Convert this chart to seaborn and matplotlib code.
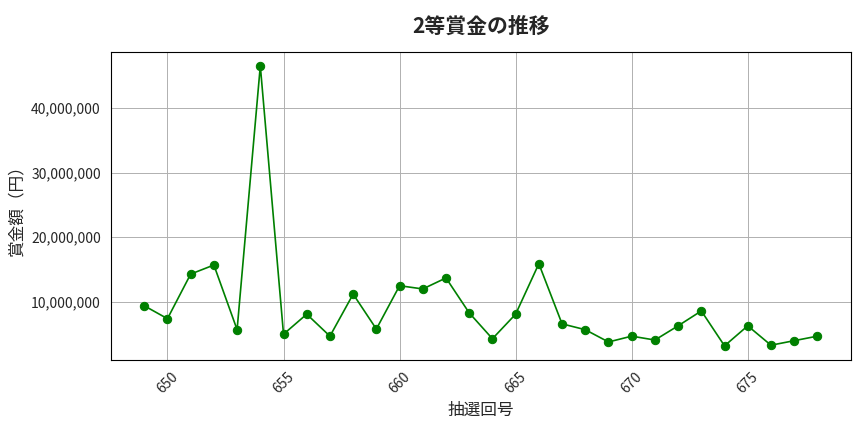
import matplotlib
matplotlib.use("Agg")
import matplotlib.pyplot as plt
import seaborn as sns
import pandas as pd
from matplotlib.ticker import FuncFormatter

draws = list(range(649, 679))
prizes = [9.4, 7.4, 14.3, 15.7, 5.7, 46.5, 5.0, 8.1, 4.7, 11.2, 5.8, 12.5, 12.0, 13.7, 8.3,
          4.3, 8.1, 15.9, 6.6, 5.7, 3.8, 4.7, 4.1, 6.3, 8.6, 3.2, 6.3, 3.3, 4.0, 4.7]
prizes = [p * 1_000_000 for p in prizes]
df = pd.DataFrame({"draw": draws, "prize": prizes})

sns.set_style("white")
plt.rcParams['font.family'] = ['Noto Sans CJK JP', 'DejaVu Sans']
fig, ax = plt.subplots(figsize=(8.64, 4.32), dpi=100)
sns.lineplot(data=df, x="draw", y="prize", color="green", marker="o", markersize=6,
             markeredgecolor="green", linewidth=1.2, ax=ax)
ax.grid(True, color="#b0b0b0", linewidth=0.7)
ax.yaxis.set_major_formatter(FuncFormatter(lambda v, p: f"{int(v):,}"))
ax.set_title("2等賞金の推移", fontsize=15, fontweight="bold", pad=14)
ax.set_xlabel("抽選回号", fontsize=12)
ax.set_ylabel("賞金額（円）", fontsize=12)
plt.setp(ax.get_xticklabels(), rotation=45)
for s in ax.spines.values():
    s.set_color("black")
fig.subplots_adjust(left=0.128, right=0.985, top=0.88, bottom=0.167)
fig.savefig("out.png")
